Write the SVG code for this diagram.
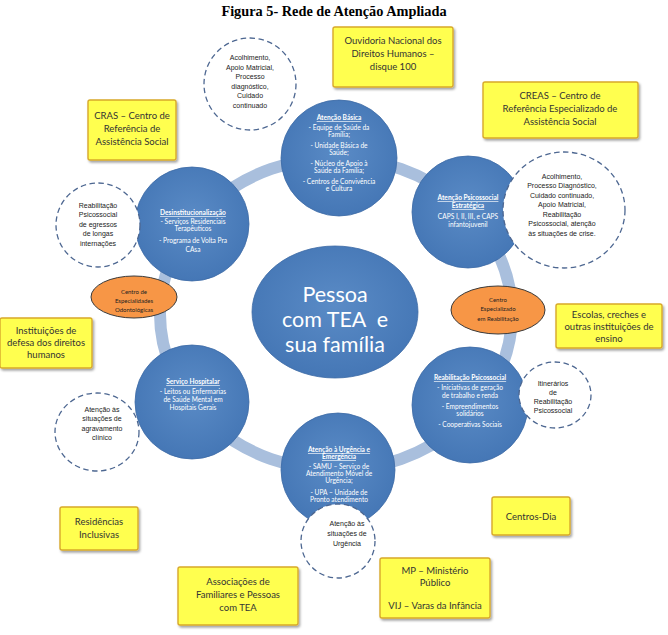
<svg xmlns="http://www.w3.org/2000/svg" width="668" height="635" viewBox="0 0 668 635">
<defs>
<radialGradient id="bg" cx="50%" cy="45%" r="60%">
<stop offset="0" stop-color="#5a8bc6"/>
<stop offset="1" stop-color="#4375b4"/>
</radialGradient>
<filter id="sh" x="-10%" y="-10%" width="130%" height="140%">
<feDropShadow dx="1.5" dy="2" stdDeviation="1.2" flood-color="#000" flood-opacity="0.35"/>
</filter>
</defs>
<style>
.title{font-family:"Liberation Serif",serif;font-weight:bold;font-size:14.3px;fill:#000}
.blue{fill:url(#bg);stroke:#3d6ba6;stroke-width:0.8}
.bt{font-family:Lato,"Liberation Sans",sans-serif;font-size:6.6px;fill:#fff;text-anchor:middle}
.bh{font-weight:bold;text-decoration:underline}
.dash{fill:#fff;stroke:#4d6791;stroke-width:1.3;stroke-dasharray:5.5 3.5}
.dt{font-family:"Liberation Sans",Arial,sans-serif;font-size:7px;fill:#222;text-anchor:middle}
.ora{fill:#f79646;stroke:#3a3a3a;stroke-width:1}
.ot{font-family:Lato,"Liberation Sans",sans-serif;font-size:6px;fill:#222;text-anchor:middle}
.yel{fill:#ffff4f;stroke:#d8a92a;stroke-width:1.4;filter:url(#sh)}
.yt{font-family:Lato,"Liberation Sans",sans-serif;font-size:9.5px;fill:#333;text-anchor:middle}
.ct{font-family:Lato,"Liberation Sans",sans-serif;font-size:21.5px;fill:#fff;text-anchor:middle}
</style>
<rect width="668" height="635" fill="#fff"/>
<text class="title" x="334" y="16" text-anchor="middle">Figura 5- Rede de Atenção Ampliada</text>

<g id="connectors">
<ellipse cx="336" cy="314" rx="176" ry="156" fill="none" stroke="#a9bfdd" stroke-width="12"/>
</g>

<g id="center">
<ellipse class="blue" cx="335" cy="312" rx="83" ry="66"/>
<text class="ct" x="335" y="302">Pessoa</text>
<text class="ct" x="335" y="327" xml:space="preserve">com TEA  e</text>
<text class="ct" x="335" y="352">sua família</text>
</g>

<g id="atencao-basica">
<circle class="blue" cx="339" cy="158" r="58"/>
<text class="bt bh" x="339" y="120">Atenção Básica</text>
<text class="bt" x="339" y="130">- Equipe de Saúde da</text>
<text class="bt" x="339" y="137">Família;</text>
<text class="bt" x="339" y="148">- Unidade Básica de</text>
<text class="bt" x="339" y="155">Saúde;</text>
<text class="bt" x="339" y="166">- Núcleo de Apoio à</text>
<text class="bt" x="339" y="173">Saúde da Família;</text>
<text class="bt" x="339" y="184">- Centros de Convivência</text>
<text class="bt" x="339" y="191">e Cultura</text>
</g>

<g id="atencao-psicossocial">
<circle class="blue" cx="468" cy="212" r="56"/>
<text class="bt bh" x="468" y="200">Atenção Psicossocial</text>
<text class="bt bh" x="468" y="208">Estratégica</text>
<text class="bt" x="468" y="219">CAPS I, II, III, e CAPS</text>
<text class="bt" x="468" y="227">infantojuvenil</text>
</g>

<g id="desinstitucionalizacao">
<circle class="blue" cx="192" cy="224" r="57"/>
<text class="bt bh" x="193" y="215">Desinstitucionalização</text>
<text class="bt" x="193" y="224">- Serviços Residenciais</text>
<text class="bt" x="193" y="231">Terapêuticos</text>
<text class="bt" x="193" y="243">- Programa de Volta Pra</text>
<text class="bt" x="193" y="252">CAsa</text>
</g>

<g id="servico-hospitalar">
<circle class="blue" cx="192" cy="402" r="57"/>
<text class="bt bh" x="193" y="384">Serviço Hospitalar</text>
<text class="bt" x="193" y="394">- Leitos ou Enfermarias</text>
<text class="bt" x="193" y="402">de Saúde Mental em</text>
<text class="bt" x="193" y="410">Hospitais Gerais</text>
</g>

<g id="reabilitacao-psicossocial">
<circle class="blue" cx="470" cy="405" r="58"/>
<text class="bt bh" x="470" y="380">Reabilitação Psicossocial</text>
<text class="bt" x="470" y="390">- Iniciativas de geração</text>
<text class="bt" x="470" y="398">de trabalho e renda</text>
<text class="bt" x="470" y="409">- Empreendimentos</text>
<text class="bt" x="470" y="416">solidários</text>
<text class="bt" x="470" y="427">- Cooperativas Sociais</text>
</g>

<g id="urgencia">
<circle class="blue" cx="338" cy="470" r="57"/>
<text class="bt bh" x="339" y="452">Atenção à Urgência e</text>
<text class="bt bh" x="339" y="459">Emergência</text>
<text class="bt" x="339" y="469">- SAMU – Serviço de</text>
<text class="bt" x="339" y="476">Atendimento Móvel de</text>
<text class="bt" x="339" y="483">Urgência;</text>
<text class="bt" x="339" y="495">- UPA – Unidade de</text>
<text class="bt" x="339" y="502">Pronto atendimento</text>
</g>

<g id="dc-basica">
<circle class="dash" cx="250" cy="84" r="46"/>
<text class="dt" x="250" y="60">Acolhimento,</text>
<text class="dt" x="250" y="69.5">Apoio Matricial,</text>
<text class="dt" x="250" y="79">Processo</text>
<text class="dt" x="250" y="88.5">diagnóstico,</text>
<text class="dt" x="250" y="98">Cuidado</text>
<text class="dt" x="250" y="107.5">continuado</text>
</g>

<g id="dc-psicossocial">
<ellipse class="dash" cx="564" cy="210" rx="61" ry="58"/>
<text class="dt" x="562" y="178.5">Acolhimento,</text>
<text class="dt" x="562" y="188">Processo Diagnóstico,</text>
<text class="dt" x="562" y="197.5">Cuidado continuado,</text>
<text class="dt" x="562" y="207">Apoio Matricial,</text>
<text class="dt" x="562" y="216.5">Reabilitação</text>
<text class="dt" x="562" y="226">Psicossocial, atenção</text>
<text class="dt" x="562" y="235.5">às situações de crise.</text>
</g>

<g id="dc-desinst">
<circle class="dash" cx="98" cy="225" r="42"/>
<text class="dt" x="98" y="207.5">Reabilitação</text>
<text class="dt" x="98" y="217">Psicossocial</text>
<text class="dt" x="98" y="226.5">de egressos</text>
<text class="dt" x="98" y="236">de longas</text>
<text class="dt" x="98" y="245.5">internações</text>
</g>

<g id="dc-hospitalar">
<ellipse class="dash" cx="97" cy="432" rx="42" ry="39"/>
<text class="dt" x="102" y="411.5">Atenção às</text>
<text class="dt" x="102" y="421">situações de</text>
<text class="dt" x="102" y="430.5">agravamento</text>
<text class="dt" x="102" y="440">clínico</text>
</g>

<g id="dc-reabilitacao">
<ellipse class="dash" cx="555" cy="395" rx="36" ry="33"/>
<text class="dt" x="553" y="385.5">Itinerários</text>
<text class="dt" x="553" y="394.5">de</text>
<text class="dt" x="553" y="403.5">Reabilitação</text>
<text class="dt" x="553" y="412.5">Psicossocial</text>
</g>

<g id="dc-urgencia">
<circle class="dash" cx="338" cy="541" r="37"/>
<text class="dt" x="347" y="525.5">Atenção às</text>
<text class="dt" x="347" y="535.5">situações de</text>
<text class="dt" x="347" y="545.5">Urgência</text>
</g>

<g id="ceo">
<ellipse class="ora" cx="134" cy="297" rx="43" ry="21"/>
<text class="ot" x="134" y="294">Centro de</text>
<text class="ot" x="134" y="303">Especialidades</text>
<text class="ot" x="134" y="312">Odontológicas</text>
</g>

<g id="cer">
<ellipse class="ora" cx="498" cy="310" rx="47" ry="24"/>
<text class="ot" x="498" y="302">Centro</text>
<text class="ot" x="498" y="311">Especializado</text>
<text class="ot" x="498" y="321">em Reabilitação</text>
</g>

<g id="ouvidoria">
<rect class="yel" x="333" y="27" width="120" height="60" rx="2"/>
<text class="yt" x="393" y="44">Ouvidoria Nacional dos</text>
<text class="yt" x="393" y="57">Direitos Humanos –</text>
<text class="yt" x="393" y="70">disque 100</text>
</g>

<g id="creas">
<rect class="yel" x="483" y="82" width="155" height="56" rx="2"/>
<text class="yt" x="560" y="99">CREAS – Centro de</text>
<text class="yt" x="560" y="112">Referência Especializado de</text>
<text class="yt" x="560" y="125">Assistência Social</text>
</g>

<g id="cras">
<rect class="yel" x="88" y="100" width="88" height="60" rx="2"/>
<text class="yt" x="132" y="119">CRAS – Centro de</text>
<text class="yt" x="132" y="132">Referência de</text>
<text class="yt" x="132" y="145">Assistência Social</text>
</g>

<g id="escolas">
<rect class="yel" x="556" y="304" width="106" height="44" rx="2"/>
<text class="yt" x="609" y="318">Escolas, creches e</text>
<text class="yt" x="609" y="330">outras instituições de</text>
<text class="yt" x="609" y="342">ensino</text>
</g>

<g id="instituicoes">
<rect class="yel" x="0" y="318" width="92" height="50" rx="2"/>
<text class="yt" x="46" y="334">Instituições de</text>
<text class="yt" x="46" y="346">defesa dos direitos</text>
<text class="yt" x="46" y="358">humanos</text>
</g>

<g id="residencias">
<rect class="yel" x="60" y="507" width="78" height="43" rx="2"/>
<text class="yt" x="99" y="525">Residências</text>
<text class="yt" x="99" y="538">Inclusivas</text>
</g>

<g id="centros-dia">
<rect class="yel" x="492" y="497" width="78" height="38" rx="2"/>
<text class="yt" x="531" y="520">Centros-Dia</text>
</g>

<g id="associacoes">
<rect class="yel" x="178" y="567" width="120" height="58" rx="2"/>
<text class="yt" x="238" y="585">Associações de</text>
<text class="yt" x="238" y="598">Familiares e Pessoas</text>
<text class="yt" x="238" y="611">com TEA</text>
</g>

<g id="mp">
<rect class="yel" x="380" y="558" width="110" height="60" rx="2"/>
<text class="yt" x="435" y="574">MP – Ministério</text>
<text class="yt" x="435" y="586">Público</text>
<text class="yt" x="435" y="609">VIJ – Varas da Infância</text>
</g>
</svg>
